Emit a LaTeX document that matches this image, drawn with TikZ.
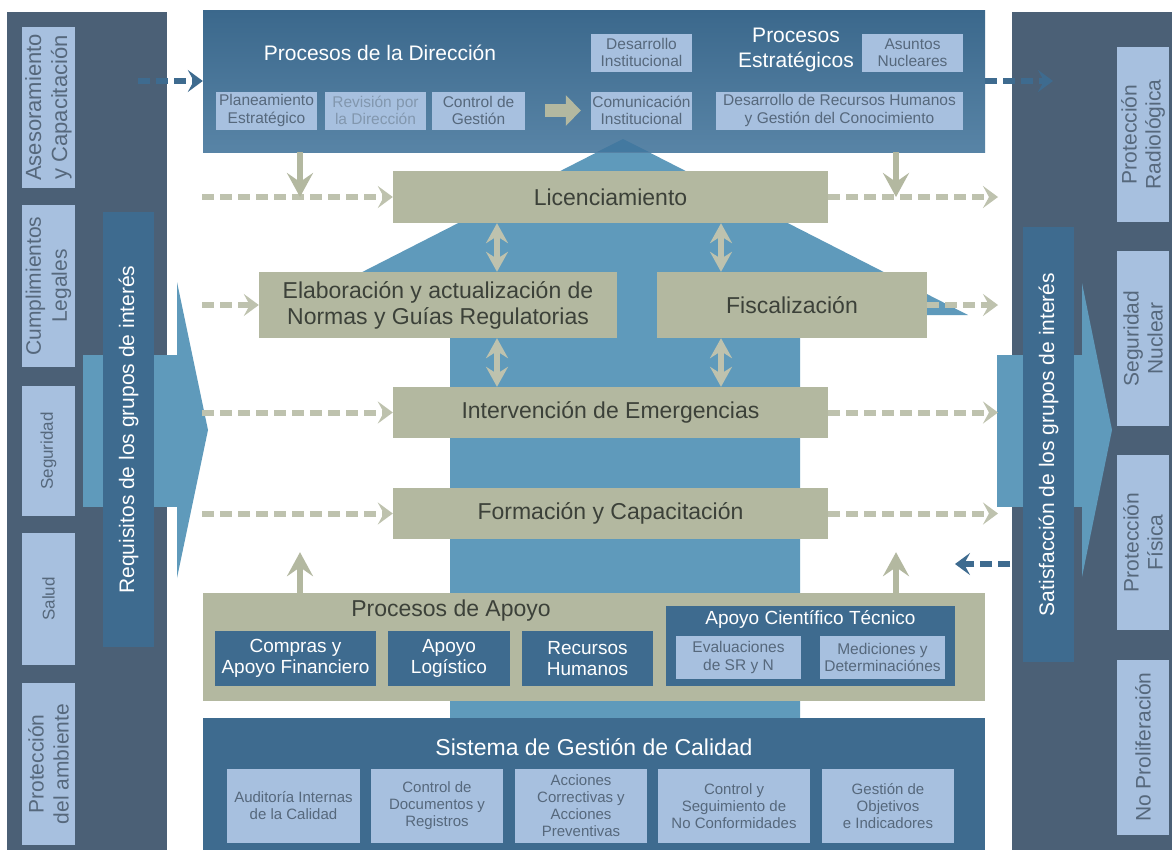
\documentclass[tikz,border=0pt]{standalone}
\usepackage{fontspec}
\setmainfont{Liberation Sans}
\usepackage{xcolor}
\usetikzlibrary{arrows.meta}
\definecolor{slate}{HTML}{4B6076}
\definecolor{paleblue}{HTML}{A7C0DF}
\definecolor{deepblue}{HTML}{3E6B8F}
\definecolor{midblue}{HTML}{5F9ABB}
\definecolor{tipblue}{HTML}{4379A0}
\definecolor{topdark}{HTML}{3B688C}
\definecolor{toplight}{HTML}{5884A6}
\definecolor{khaki}{HTML}{B3B8A0}
\definecolor{khakilight}{HTML}{BEC2AE}
\definecolor{greytext}{HTML}{56687C}
\definecolor{fadetext}{HTML}{8297AE}
\definecolor{darktext}{HTML}{3C4139}

\begin{document}
\begin{tikzpicture}[x=1pt,y=-1pt,
        lbox/.style={fill=paleblue, text=greytext, align=center, inner sep=0pt, font=\fontsize{15.5}{17.5}\selectfont},
        sidebox/.style={lbox, rotate=90},
        kbox/.style={fill=khaki, text=darktext, align=center, inner sep=0pt, font=\fontsize{23}{26}\selectfont},
        dbox/.style={fill=deepblue, text=white, align=center, inner sep=0pt, font=\fontsize{19}{21}\selectfont},
        dashrow/.style={khakilight, line width=6pt, dash pattern=on 12pt off 6pt, -{Stealth[length=15pt,width=22pt,inset=6pt]}},
        dblarrow/.style={khakilight, line width=6pt, {Stealth[length=20pt,width=22pt,inset=7pt]}-{Stealth[length=20pt,width=22pt,inset=7pt]}},
        droparrow/.style={khaki, line width=6pt, -{Stealth[length=24pt,width=26pt,inset=9pt]}},
        bluedash/.style={deepblue, line width=6pt, dash pattern=on 12pt off 6pt, -{Stealth[length=15pt,width=22pt,inset=6pt]}}
    ]
    \useasboundingbox (0,0) rectangle (1174,852);
    \fill[white] (0,0) rectangle (1174,852);

    % side panels
    \fill[slate] (7,12) rectangle (167,850);
    \fill[slate] (1012,12) rectangle (1172,850);
    \foreach \n/\y/\h/\s/\b/\t in {ases/107.5/161/22/26/{Asesoramiento\\y Capacitación},
            cumpl/286/162/21/26/{Cumplimientos\\Legales}, segur/451/130/17/20/Seguridad,
            salud/599/132/17/20/Salud, amb/764/162/21/25/{Protección\\del ambiente}} {
        \node[sidebox, minimum width=\h, minimum height=53, font=\fontsize{\s}{\b}\selectfont] (\n) at (48.5,\y) {\t};
    }
    \foreach \n/\y/\t in {radio/134.5/{Protección\\Radiológica}, segnuc/338.5/{Seguridad\\Nuclear},
            fisica/542.5/{Protección\\Física}, noprol/747/{No Proliferación}} {
        \node[sidebox, minimum width=175, minimum height=52, font=\fontsize{21}{24}\selectfont] (\n) at (1143,\y) {\t};
    }

    % big side arrows
    \fill[midblue] (83,355) rectangle (177,507);
    \fill[midblue] (177,282) -- (208,430) -- (177,578) -- cycle;
    \node[dbox, rotate=90, minimum width=435, minimum height=51, font=\fontsize{21}{24}\selectfont] (requis) at (128.5,429.5) {Requisitos de los grupos de interés};
    \fill[midblue] (997,355) rectangle (1082,507);
    \fill[midblue] (1082,283) -- (1112,430) -- (1082,577) -- cycle;
    \node[dbox, rotate=90, minimum width=435, minimum height=51, font=\fontsize{21}{24}\selectfont] (satisf) at (1048.5,444.5) {Satisfacción de los grupos de interés};

    % central arrow
    \fill[midblue] (450,718) -- (450,315) -- (278,315) -- (623,139) -- (968,315) -- (800,315) -- (800,718) -- cycle;

    % direccion
    \node[minimum width=782, minimum height=142, inner sep=0pt, top color=topdark, bottom color=toplight] (direccion) at (594,81) {};
    \fill[tipblue] (597,152) -- (623,139) -- (649,152) -- cycle;
    \node[text=white, font=\fontsize{21}{24}\selectfont] (tdir) at (380,53) {Procesos de la Dirección};
    \node[text=white, align=center, font=\fontsize{21}{25}\selectfont] (testr) at (796,50) {Procesos\\Estratégicos};
    \foreach \n/\cx/\cy/\w/\t in {plan/266.5/110.5/101/{Planeamiento\\Estratégico}, ctrl/478.5/110.5/93/{Control de\\Gestión},
            comun/641.5/110.5/101/{Comunicación\\Institucional}, desrrhh/839.5/110.5/247/{Desarrollo de Recursos Humanos\\y Gestión del Conocimiento},
            desinst/641.5/52.5/101/{Desarrollo\\Institucional}, asuntos/912.5/52.5/101/{Asuntos\\Nucleares}} {
        \node[lbox, minimum width=\w, minimum height=38] (\n) at (\cx,\cy) {\t};
    }
    \node[lbox, text=fadetext, minimum width=101, minimum height=38] (revis) at (375.5,110.5) {Revisión por\\la Dirección};
    \draw[khaki, line width=13pt, -{Triangle[length=15pt,width=30pt]}] ([xshift=20pt]ctrl.east) -- ([xshift=-10pt]comun.west);

    % core processes
    \node[kbox, minimum width=435, minimum height=52] (lic) at (610.5,197) {Licenciamiento};
    \node[kbox, minimum width=358, minimum height=66] (elab) at (438,305) {Elaboración y actualización de\\Normas y Guías Regulatorias};
    \node[kbox, minimum width=270, minimum height=66] (fisc) at (792,305) {Fiscalización};
    \node[kbox, minimum width=435, minimum height=51] (interv) at (610.5,412.5) {Intervención de Emergencias};
    \node[kbox, minimum width=435, minimum height=51] (form) at (610.5,513.5) {Formación y Capacitación};

    \coordinate (lstart) at (202,0);
    \coordinate (rend) at (998,0);
    \coordinate (va) at (497,0);
    \coordinate (vb) at (721,0);
    \coordinate (da) at (300,0);
    \coordinate (db) at (896,0);
    \foreach \r in {lic, interv, form} {
        \draw[dashrow] (lstart |- \r.west) -- (\r.west);
        \draw[dashrow] (\r.east) -- (rend |- \r.east);
    }
    \draw[dashrow] (lstart |- elab.west) -- (elab.west);
    \draw[dashrow] (fisc.east) -- (rend |- fisc.east);
    \foreach \c/\m in {va/elab, vb/fisc} {
        \draw[dblarrow] (lic.south -| \c) -- (\m.north -| \c);
        \draw[dblarrow] (\m.south -| \c) -- (interv.north -| \c);
    }
    \foreach \c in {da, db} {
        \draw[droparrow] (direccion.south -| \c) -- (lic.west -| \c);
    }

    % apoyo
    \node[kbox, minimum width=782, minimum height=108] (apoyo) at (594,647) {};
    \node[text=darktext, font=\fontsize{23}{26}\selectfont] (tapoyo) at (451,611) {Procesos de Apoyo};
    \foreach \n/\cx/\w/\t in {compras/295.5/161/{Compras y\\Apoyo Financiero}, logist/449/122/{Apoyo\\Logístico},
            rrhh/587.5/131/{Recursos\\Humanos}} {
        \node[dbox, minimum width=\w, minimum height=55] (\n) at (\cx,658.5) {\t};
    }
    \node[dbox, minimum width=289, minimum height=80] (act) at (810.5,646) {};
    \node[text=white, font=\fontsize{19}{22}\selectfont] (tact) at (810.5,619) {Apoyo Científico Técnico};
    \node[lbox, minimum width=125, minimum height=43] (evalua) at (738.5,657.5) {Evaluaciones\\de SR y N};
    \node[lbox, minimum width=125, minimum height=43] (medic) at (882.5,657.5) {Mediciones y\\Determinaciónes};
    \foreach \c in {da, db} {
        \draw[droparrow, shorten >=13pt] (apoyo.north -| \c) -- (form.south -| \c);
    }

    % calidad
    \node[dbox, minimum width=782, minimum height=132] (sgc) at (594,784) {};
    \node[text=white, font=\fontsize{23}{26}\selectfont] (tsgc) at (594,747) {Sistema de Gestión de Calidad};
    \foreach \n/\cx/\w/\t in {audit/293.5/133/{Auditoría Internas\\de la Calidad}, ctrldoc/437/132/{Control de\\Documentos y\\Registros},
            acciones/581/132/{Acciones\\Correctivas y\\Acciones\\Preventivas}, ctrlseg/734/152/{Control y\\Seguimiento de\\No Conformidades},
            gestobj/888/132/{Gestión de\\Objetivos\\e Indicadores}} {
        \node[lbox, minimum width=\w, minimum height=74, font=\fontsize{15}{17}\selectfont] (\n) at (\cx,806) {\t};
    }

    % stakeholder links
    \coordinate (bl) at (138,81);
    \coordinate (br) at (1053,81);
    \coordinate (bs) at (1010,564);
    \coordinate (bse) at (955,564);
    \draw[bluedash] (bl) -- (direccion.west);
    \draw[bluedash] (direccion.east) -- (br);
    \draw[bluedash] (bs) -- (bse);
\end{tikzpicture}
\end{document}
